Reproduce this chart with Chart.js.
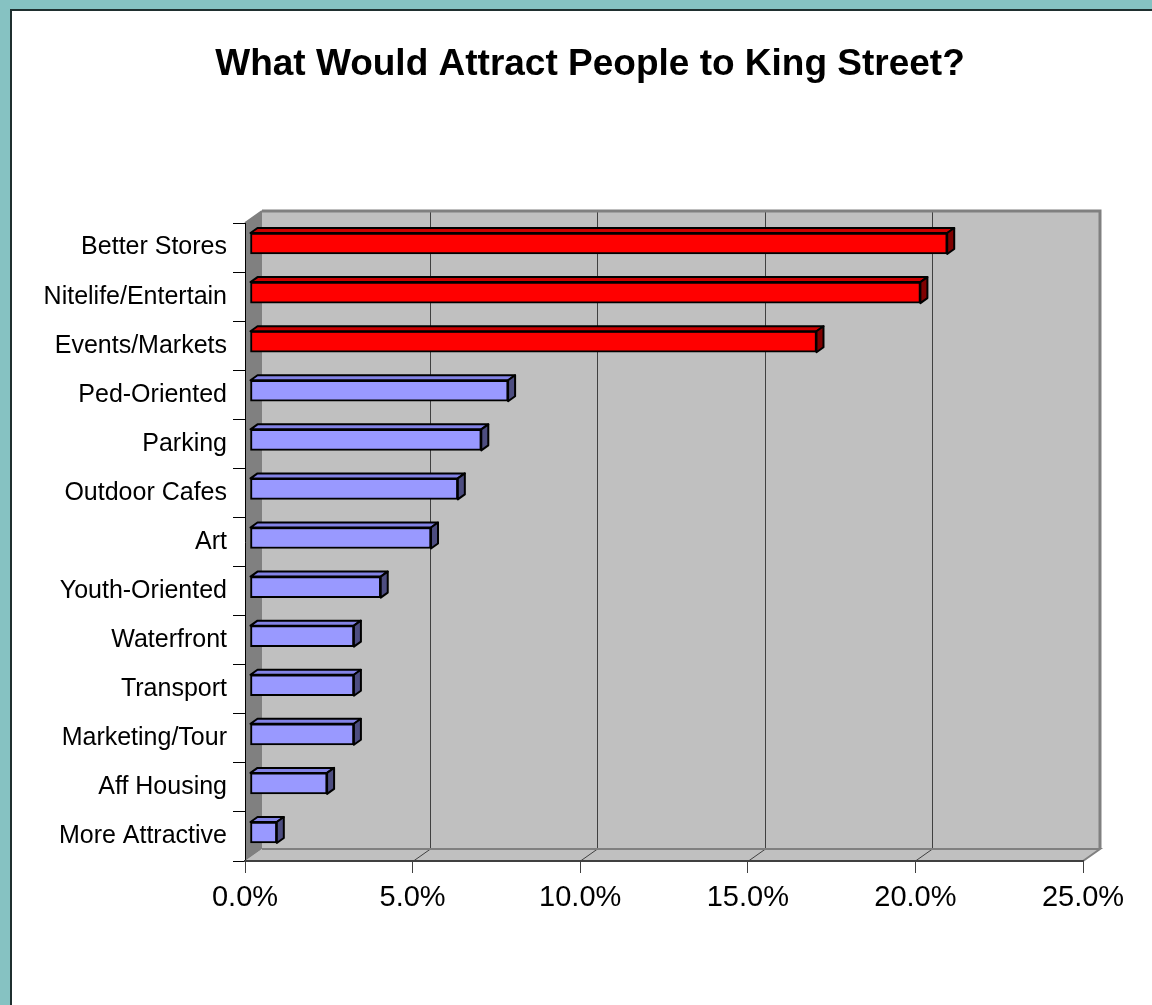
<!DOCTYPE html>
<html>
<head>
<meta charset="utf-8">
<script src="https://cdn.jsdelivr.net/npm/chart.js@4.4.1/dist/chart.umd.min.js"></script>
<style>
    html, body { margin: 0; padding: 0; background: #86c2c2; }
    #frame { position: absolute; left: 10px; top: 9px; width: 1142px; height: 996px;
        background: #fff; border-left: 2px solid #1f2f2f; border-top: 2px solid #1f2f2f; }
    #chart { position: absolute; left: 0; top: 0; }
</style>
</head>
<body>
<div id="frame"></div>
<canvas id="chart" width="1152" height="1005"></canvas>
<script>
var chartTitle = "What Would Attract People to King Street?"
var categories = ["Better Stores", "Nitelife/Entertain", "Events/Markets", "Ped-Oriented", "Parking",
    "Outdoor Cafes", "Art", "Youth-Oriented", "Waterfront", "Transport", "Marketing/Tour",
    "Aff Housing", "More Attractive"]
var percents = [20.8, 20.0, 16.9, 7.7, 6.9, 6.2, 5.4, 3.9, 3.1, 3.1, 3.1, 2.3, 0.8]
var highlighted = [true, true, true, false, false, false, false, false, false, false, false, false, false]
var xTicks = [0, 5, 10, 15, 20, 25]

var fontFamily = "Arial, 'Liberation Sans', sans-serif"
var wallDepth = { x: 17, y: 12 }
var barShift = { x: 5, y: -4 }
var barDepth = { x: 7, y: 5 }

var frontColors = highlighted.map(h => h ? "#ff0000" : "#9999ff")
var topColors = highlighted.map(h => h ? "#cc0000" : "#8383e6")
var sideColors = highlighted.map(h => h ? "#800000" : "#4d4d80")

// back wall, side wall and floor of the 3D box
var walls = {
    id: "walls",
    beforeDraw(chart) {
        let ctx = chart.ctx
        let a = chart.chartArea
        let xs = chart.scales.x
        let dx = wallDepth.x, dy = wallDepth.y
        ctx.save()
        ctx.fillStyle = "#c0c0c0"
        ctx.fillRect(a.left + dx, a.top - dy, a.right - a.left, a.bottom - a.top)

        ctx.beginPath()
        ctx.moveTo(a.left, a.bottom)
        ctx.lineTo(a.left + dx, a.bottom - dy)
        ctx.lineTo(a.right + dx, a.bottom - dy)
        ctx.lineTo(a.right, a.bottom)
        ctx.closePath()
        ctx.fill()

        ctx.fillStyle = "#808080"
        ctx.beginPath()
        ctx.moveTo(a.left, a.top)
        ctx.lineTo(a.left + dx, a.top - dy)
        ctx.lineTo(a.left + dx, a.bottom - dy)
        ctx.lineTo(a.left, a.bottom)
        ctx.closePath()
        ctx.fill()

        ctx.strokeStyle = "#404040"
        ctx.lineWidth = 1
        for (let v of xTicks) {
            if (v == 0 || v == 25) continue
            let px = Math.round(xs.getPixelForValue(v)) + 0.5
            ctx.beginPath()
            ctx.moveTo(px + dx, a.top - dy)
            ctx.lineTo(px + dx, a.bottom - dy)
            ctx.lineTo(px, a.bottom)
            ctx.stroke()
        }

        ctx.strokeStyle = "#808080"
        ctx.lineWidth = 3
        ctx.beginPath()
        ctx.moveTo(a.left + dx, a.top - dy)
        ctx.lineTo(a.right + dx, a.top - dy)
        ctx.lineTo(a.right + dx, a.bottom - dy)
        ctx.stroke()
        ctx.lineWidth = 2
        ctx.beginPath()
        ctx.moveTo(a.left + dx, a.bottom - dy)
        ctx.lineTo(a.right + dx, a.bottom - dy)
        ctx.lineTo(a.right, a.bottom)
        ctx.moveTo(a.left, a.top)
        ctx.lineTo(a.left + dx, a.top - dy)
        ctx.stroke()
        ctx.restore()
    }
}

// shift the bars into the box and add top and side faces
var bars3d = {
    id: "bars3d",
    beforeDatasetsDraw(chart) {
        chart.ctx.save()
        chart.ctx.translate(barShift.x, barShift.y)
    },
    afterDatasetsDraw(chart) {
        let ctx = chart.ctx
        let meta = chart.getDatasetMeta(0)
        let dx = barDepth.x, dy = barDepth.y
        ctx.lineWidth = 2
        ctx.lineJoin = "round"
        ctx.strokeStyle = "#000"
        meta.data.forEach((bar, i) => {
            let top = bar.y - bar.height / 2
            let bottom = bar.y + bar.height / 2
            ctx.fillStyle = topColors[i]
            ctx.beginPath()
            ctx.moveTo(bar.base, top)
            ctx.lineTo(bar.base + dx, top - dy)
            ctx.lineTo(bar.x + dx, top - dy)
            ctx.lineTo(bar.x, top)
            ctx.closePath()
            ctx.fill()
            ctx.stroke()
            ctx.fillStyle = sideColors[i]
            ctx.beginPath()
            ctx.moveTo(bar.x, top)
            ctx.lineTo(bar.x + dx, top - dy)
            ctx.lineTo(bar.x + dx, bottom - dy)
            ctx.lineTo(bar.x, bottom)
            ctx.closePath()
            ctx.fill()
            ctx.stroke()
        })
        ctx.restore()
    }
}

// title is centred on the whole picture, not on the plot
var pageTitle = {
    id: "pageTitle",
    afterDraw(chart) {
        let ctx = chart.ctx
        ctx.save()
        ctx.font = "bold 37px " + fontFamily
        ctx.fillStyle = "#000"
        ctx.textAlign = "center"
        ctx.textBaseline = "middle"
        ctx.fillText(chartTitle, 590, 65)
        ctx.restore()
    }
}

window.onload = function () {
    let ctx = document.getElementById("chart").getContext("2d")
    new Chart(ctx, {
        type: "bar",
        data: {
            labels: categories,
            datasets: [{
                data: percents,
                backgroundColor: frontColors,
                borderColor: "#000",
                borderWidth: 2,
                borderSkipped: false,
                barThickness: 21
            }]
        },
        plugins: [walls, bars3d, pageTitle],
        options: {
            indexAxis: "y",
            responsive: false,
            animation: false,
            devicePixelRatio: 1,
            layout: { padding: { left: 0, right: 69, top: 223, bottom: 0 } },
            plugins: {
                legend: { display: false },
                tooltip: { enabled: false },
                title: { display: false }
            },
            scales: {
                y: {
                    type: "category",
                    afterFit: (scale) => { scale.width = 245 },
                    grid: { offset: true, drawOnChartArea: false, tickLength: 12, color: "#000", lineWidth: 1 },
                    border: { color: "#000", width: 1 },
                    ticks: { padding: 6, color: "#000", font: { family: fontFamily, size: 25 } }
                },
                x: {
                    min: 0,
                    max: 25,
                    afterFit: (scale) => { scale.height = 144 },
                    afterBuildTicks: (scale) => { scale.ticks = xTicks.map(v => ({ value: v })) },
                    grid: { drawOnChartArea: false, tickLength: 12, color: "#404040", lineWidth: 1 },
                    border: { color: "#404040", width: 2 },
                    ticks: {
                        padding: 8,
                        color: "#000",
                        font: { family: fontFamily, size: 29 },
                        callback: (v) => v.toFixed(1) + "%"
                    }
                }
            }
        }
    })
}
</script>
</body>
</html>
